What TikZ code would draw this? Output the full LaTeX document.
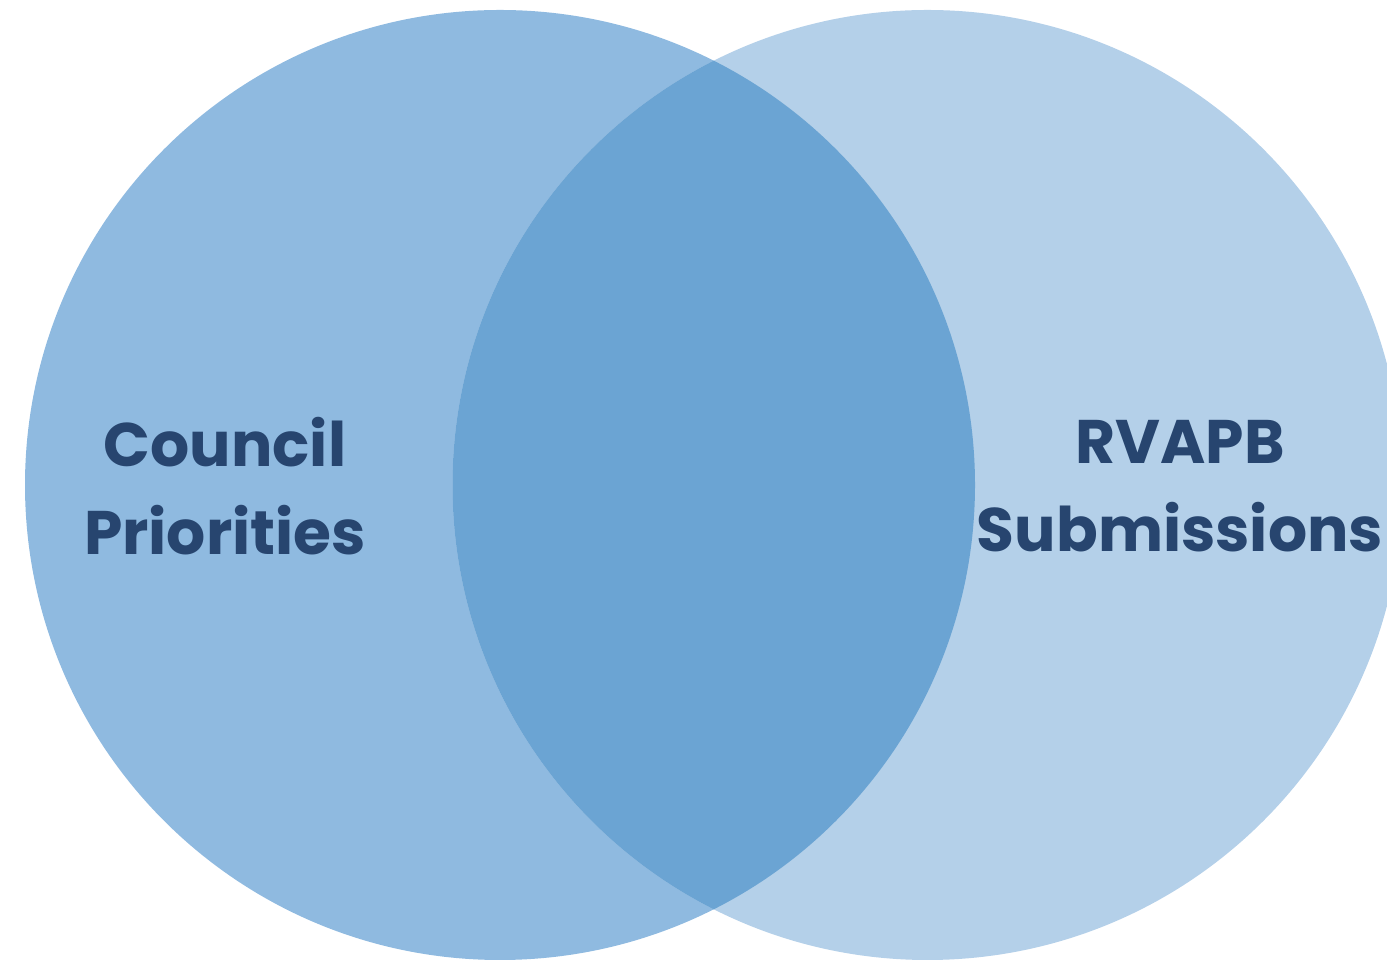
\documentclass[tikz,border=0pt]{standalone}
\usepackage{fontspec}
\setmainfont{Poppins}
\usepackage{xcolor}
\usepackage{tikz}
\usetikzlibrary{positioning}

\definecolor{councilblue}{HTML}{8FBAE0}
\definecolor{rvapbblue}{HTML}{B4D0E9}
\definecolor{overlapblue}{HTML}{6BA4D3}
\definecolor{labelnavy}{HTML}{27456F}

\begin{document}
\begin{tikzpicture}[font=\fontsize{35}{50}\selectfont\bfseries]
  % Styles
  \tikzstyle{set}=[circle,inner sep=0pt,draw=none]
  \tikzstyle{lbl}=[align=center,text=labelnavy]

  \clip (0,0) rectangle (27.74,19.2);
  \useasboundingbox (0,0) rectangle (27.74,19.2);

  % Sets
  \node[set,fill=councilblue,minimum size=19cm] (council) at (10,9.5) {};
  \node[set,fill=rvapbblue,minimum size=19cm] (rvapb) at (18.55,9.5) {};

  % Overlap
  \begin{scope}
    \clip (council.center) circle (9.5);
    \fill[overlapblue] (rvapb.center) circle (9.5);
  \end{scope}

  % Labels
  \node[lbl] (councillbl) at (4.5,9.48) {Council\\Priorities};
  \node[lbl] (rvapblbl) at (23.6,9.48) {RVAPB\\Submissions};
\end{tikzpicture}
\end{document}
